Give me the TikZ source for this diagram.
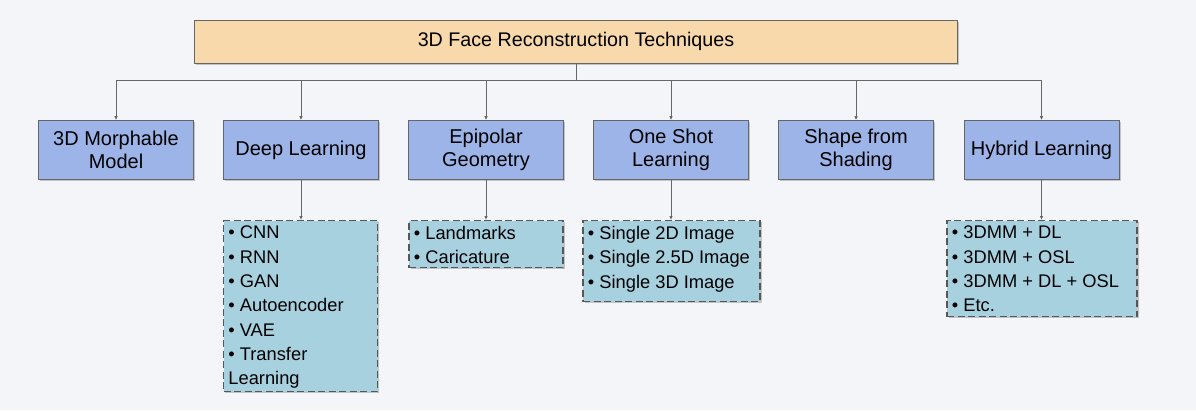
\documentclass[tikz,border=0pt]{standalone}
\usepackage{fontspec}
\setmainfont{Liberation Sans}
\usetikzlibrary{arrows.meta,shadows}

\definecolor{bgcol}{HTML}{F4F5F9}
\definecolor{titlefill}{HTML}{F8D9AB}
\definecolor{catfill}{HTML}{9CB4E7}
\definecolor{listfill}{HTML}{A8D1E0}
\definecolor{edgecol}{HTML}{666666}

\begin{document}
\begin{tikzpicture}[x=1pt, y=-1pt, line width=1pt,
    boxshadow/.style={drop shadow={shadow xshift=1.5pt, shadow yshift=-1.5pt, opacity=0.2, fill=black}},
    title/.style={draw=edgecol, fill=titlefill, minimum width=763pt, minimum height=43pt,
      inner sep=0pt, font=\fontsize{19.7}{22}\selectfont, boxshadow},
    category/.style={draw=edgecol, fill=catfill, minimum width=155pt, minimum height=58.6pt,
      inner sep=0pt, align=center, font=\fontsize{20}{22.7}\selectfont, boxshadow},
    itembox/.style={draw=edgecol!85!black, line width=1.2pt, dash pattern=on 7pt off 3.5pt,
      fill=listfill, anchor=north, inner sep=0pt, boxshadow},
    items/.style={anchor=north west, inner xsep=5pt, inner ysep=5.7pt, align=left,
      font=\fontsize{18.3}{24.3}\selectfont},
    link/.style={draw=edgecol, -{Latex[length=4pt,width=3.5pt]}}
  ]
  \fill[bgcol] (0,0) rectangle (1196,410);

  % top level
  \node[title] (root) at (576,41.6) {3D Face Reconstruction Techniques};

  % categories
  \node[category] (morph) at (116,150) {3D Morphable\\Model};
  \node[category] (deep) at (301,150) {Deep Learning};
  \node[category] (epi) at (486,150) {Epipolar\\Geometry};
  \node[category] (oneshot) at (671,150) {One Shot\\Learning};
  \node[category] (shading) at (856,150) {Shape from\\Shading};
  \node[category] (hybrid) at (1041.5,150) {Hybrid Learning};

  \draw[link] (root.south) -- ++(0,17) -| (morph.north);
  \draw[link] (root.south) -- ++(0,17) -| (deep.north);
  \draw[link] (root.south) -- ++(0,17) -| (epi.north);
  \draw[link] (root.south) -- ++(0,17) -| (oneshot.north);
  \draw[link] (root.south) -- ++(0,17) -| (shading.north);
  \draw[link] (root.south) -- ++(0,17) -| (hybrid.north);

  % lists
  \node[itembox, minimum width=154pt, minimum height=171pt] (deeplist) at (300.5,220) {};
  \node[items] at (deeplist.north west) {• CNN\\• RNN\\• GAN\\• Autoencoder\\• VAE\\• Transfer\\Learning};

  \node[itembox, minimum width=154pt, minimum height=47pt] (epilist) at (486,220) {};
  \node[items] at (epilist.north west) {• Landmarks\\• Caricature};

  \node[itembox, minimum width=177pt, minimum height=81pt] (oneshotlist) at (671.5,220) {};
  \node[items] at (oneshotlist.north west) {• Single 2D Image\\• Single 2.5D Image\\• Single 3D Image};

  \node[itembox, minimum width=190pt, minimum height=96pt] (hybridlist) at (1042,220) {};
  \node[items] at (hybridlist.north west) {• 3DMM + DL\\• 3DMM + OSL\\• 3DMM + DL + OSL\\• Etc.};

  \draw[link] (deep.south) -- (deep.south |- deeplist.north);
  \draw[link] (epi.south) -- (epi.south |- epilist.north);
  \draw[link] (oneshot.south) -- (oneshot.south |- oneshotlist.north);
  \draw[link] (hybrid.south) -- (hybrid.south |- hybridlist.north);
\end{tikzpicture}
\end{document}
